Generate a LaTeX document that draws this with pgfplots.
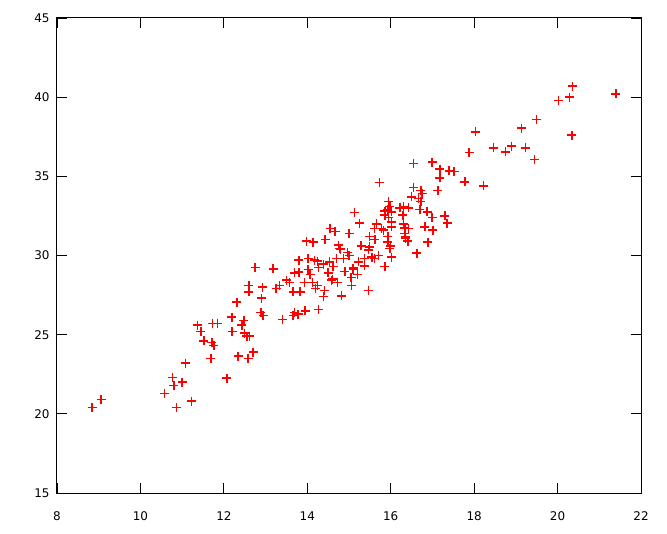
\documentclass[border=0pt]{standalone}
\usepackage{fontspec}
\setmainfont{DejaVu Sans}
\usepackage{pgfplots}
\pgfplotsset{compat=1.18}
\begin{document}
\begin{tikzpicture}
\begin{axis}[
  scale only axis, width=584bp, height=475bp,
  xmin=8, xmax=22, ymin=15, ymax=45,
  xtick={8,10,...,22}, ytick={15,20,...,45},
  tick align=inside, major tick length=10bp,
  tick style={black, line width=0.8bp},
  axis line style={line width=1bp},
  ticklabel style={font=\fontsize{12}{14}\selectfont},
  /pgf/number format/assume math mode=true,
  xticklabel style={yshift=-15bp},
  yticklabel style={xshift=-4bp},
  clip=false,
]
% scatter points
\addplot[only marks, color=red, mark=+, mark size=4.5bp, mark options={line width=1.5bp}] table {
x y
8.84 20.4
9.06 20.9
10.58 21.3
10.77 22.3
10.8 21.8
10.87 20.4
11.0 22.0
11.08 23.2
11.23 20.8
11.37 25.6
11.45 25.2
11.52 24.6
11.69 23.5
11.71 24.5
11.76 24.3
11.73 25.7
11.85 25.7
12.07 22.25
12.19 26.1
12.2 25.2
12.31 27.05
12.34 23.65
12.43 25.6
12.48 25.9
12.5 25.1
12.55 24.9
12.62 24.9
12.58 23.5
12.7 23.9
12.6 28.1
12.6 27.7
12.75 29.25
12.89 26.4
12.94 26.2
12.9 27.3
12.93 28.0
13.18 29.15
13.25 27.9
13.33 28.1
13.4 25.95
13.5 28.45
13.57 28.3
13.66 27.7
13.69 26.4
13.66 26.2
13.78 26.3
13.69 28.9
13.8 28.95
13.8 29.7
13.83 27.7
13.93 28.3
13.95 26.5
13.98 30.9
14.02 29.8
14.02 29.1
14.07 28.8
14.12 28.3
14.14 30.85
14.2 27.9
14.24 28.1
14.24 29.65
14.27 26.6
14.39 29.45
14.43 31.0
14.5 28.9
14.55 31.7
14.6 28.5
14.62 29.3
14.67 31.5
14.7 29.8
14.72 28.3
14.75 30.65
14.8 30.4
14.82 27.45
14.87 29.8
14.9 29.0
14.96 30.2
15.0 31.4
15.0 30.0
15.05 28.6
15.1 29.2
15.13 32.7
15.2 28.8
15.23 29.6
15.25 32.05
15.29 30.6
15.37 29.8
15.37 29.35
15.47 30.35
15.47 27.8
15.49 31.2
15.49 30.55
15.55 29.9
15.61 31.7
15.61 29.8
15.66 32.0
15.71 30.0
15.73 34.6
15.83 31.6
15.86 32.55
15.86 29.3
15.93 31.2
15.93 30.85
15.93 32.9
15.95 33.4
15.95 32.4
15.98 33.1
15.98 30.45
16.0 30.6
16.02 32.1
16.02 31.8
16.02 29.9
16.22 33.0
16.29 32.55
16.34 31.75
16.34 31.4
16.36 31.1
16.41 30.9
16.43 33.0
16.43 31.7
16.5 33.7
16.55 35.8
16.55 34.3
16.63 30.15
16.67 33.6
16.7 32.9
16.72 34.1
16.72 33.4
16.75 33.9
16.82 31.8
16.87 32.75
16.89 30.85
16.99 35.9
16.99 32.4
17.01 31.6
17.13 34.1
17.18 35.45
17.18 34.9
17.3 32.5
17.35 32.05
17.4 35.35
17.52 35.3
17.78 34.65
17.88 36.5
18.03 37.8
18.22 34.4
18.46 36.8
18.75 36.55
18.9 36.9
19.14 38.05
19.23 36.8
19.45 36.05
19.5 38.6
20.02 39.8
20.29 40.0
20.36 40.7
20.34 37.6
21.4 40.2
16.31 33.1
16.02 32.75
15.86 32.8
16.31 32.0
15.78 31.7
16.36 31.2
15.62 31.0
14.78 30.45
14.58 28.45
15.06 28.1
14.39 27.4
14.41 27.8
14.17 29.7
14.27 29.25
14.53 29.6
15.1 29.1
};
\path (rel axis cs:0,0) -- ++(-57bp,-41bp);
\path (rel axis cs:1,1) -- ++(26bp,18bp);
\end{axis}
\end{tikzpicture}
\end{document}
